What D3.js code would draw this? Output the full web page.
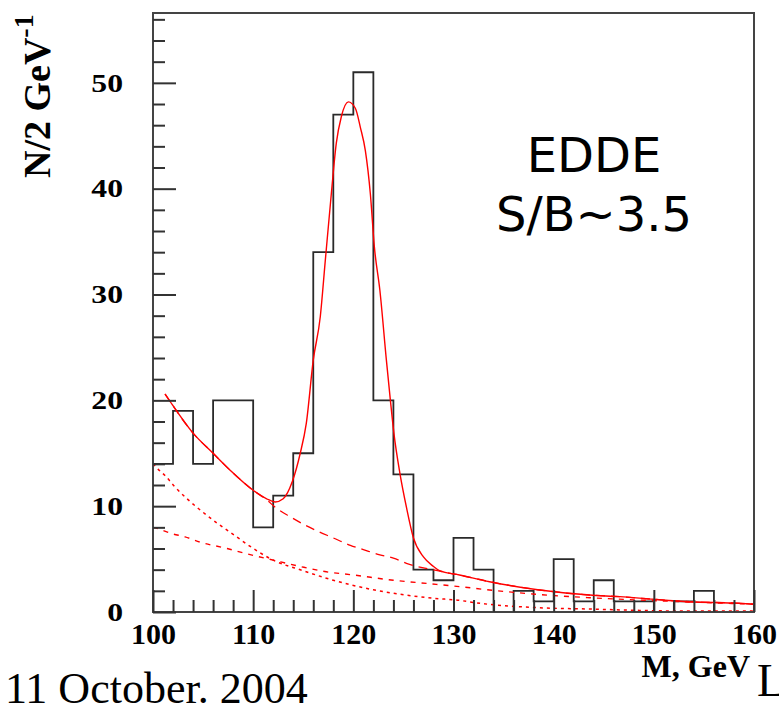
<!DOCTYPE html>
<html>
<head>
<meta charset="utf-8">
<script src="https://cdn.jsdelivr.net/npm/d3@7"></script>
<style>
  body { margin: 0; background: #fff; }
  svg { display: block; }
</style>
</head>
<body>
<svg id="chart" width="779" height="710"></svg>
<script>
// Invariant-mass histogram, 2 GeV bins (lower bin edges)
const binStarts = [100, 102, 104, 106, 108, 110, 112, 114, 116, 118,
                   120, 122, 124, 126, 128, 130, 132, 134, 136, 138,
                   140, 142, 144, 146, 148, 150, 152, 154, 156, 158];
const binWidth = 2;
const counts = [14, 19, 14, 20, 20, 8, 11, 15, 34, 47,
                51, 20, 13, 4, 3, 7, 4, 0, 2, 1,
                5, 1, 3, 1, 1, 0, 1, 2, 0, 0];

// Fit: signal peak on top of background
const fitMass = [101.2, 101.7, 104.0, 106.0, 107.7, 110.0, 111.35, 112.2, 113.0, 113.9,
                 114.7, 115.3, 116.0, 116.7, 117.2, 117.8, 118.3, 118.8, 119.5, 120.2,
                 120.7, 121.2, 121.7, 122.1, 122.65, 123.3, 123.7, 124.05, 124.65, 125.3,
                 126.0, 127.0, 128.0, 128.6, 130.6, 133.6, 138.6, 143.6, 146.6, 150.0,
                 153.6, 158.6, 160.0];
const fitValue = [20.6, 19.9, 16.9, 15.0, 13.4, 11.5, 10.7, 10.4, 10.7, 12.3,
                  15.0, 17.8, 23.8, 27.9, 33.2, 39.5, 44.3, 46.8, 48.2, 47.6,
                  45.8, 43.6, 39.5, 34.5, 30.4, 23.8, 20.0, 16.9, 13.1, 9.9,
                  7.0, 5.2, 4.3, 3.9, 3.5, 2.86, 2.08, 1.6, 1.45, 1.2,
                  0.97, 0.82, 0.73];

// Total background
const bkgMass = [101.2, 101.7, 104.0, 106.0, 107.7, 110.0, 111.35, 112.2, 113.7, 115.0,
                 116.3, 118.0, 119.7, 121.0, 122.65, 124.0, 125.3, 128.0, 130.6, 133.6,
                 138.6, 143.6, 146.6, 150.0, 153.6, 158.6, 160.0];
const bkgValue = [20.6, 19.9, 16.9, 15.0, 13.4, 11.5, 10.6, 9.9, 9.0, 8.3,
                  7.7, 7.0, 6.3, 5.9, 5.4, 5.1, 4.6, 3.97, 3.5, 2.86,
                  2.08, 1.6, 1.45, 1.2, 0.97, 0.82, 0.73];

// Background component with slow fall-off
const slowMass = [100.0, 100.4, 101.9, 103.2, 104.7, 107.4, 109.35, 112.0, 114.7, 117.3,
                  120.0, 124.0, 127.3, 130.6, 133.6, 138.6, 143.6, 148.6, 153.6, 158.6, 160.0];
const slowValue = [8.0, 7.9, 7.4, 7.1, 6.6, 6.0, 5.5, 4.9, 4.3, 3.8,
                   3.5, 3.0, 2.7, 2.4, 2.08, 1.65, 1.35, 1.13, 0.95, 0.78, 0.74];

// Background component with fast fall-off
const fastMass = [100.0, 100.5, 101.2, 102.2, 103.4, 104.5, 106.4, 108.35, 109.7, 112.0,
                  115.0, 118.0, 122.0, 128.0, 130.6, 132.0, 138.6, 143.6, 148.6, 152.0, 158.6, 160.0];
const fastValue = [14.0, 13.5, 12.9, 11.8, 10.7, 9.8, 8.4, 7.1, 6.2, 4.9,
                   3.9, 3.0, 2.1, 1.3, 1.1, 0.9, 0.4, 0.28, 0.15, 0.1, 0.1, 0.1];

// Axis ticks
const xMajor = [100, 110, 120, 130, 140, 150, 160];
const xMinor = [102, 104, 106, 108, 112, 114, 116, 118, 122, 124, 126, 128,
                132, 134, 136, 138, 142, 144, 146, 148, 152, 154, 156, 158];
const yMajor = [0, 10, 20, 30, 40, 50];
const yMinor = [2, 4, 6, 8, 12, 14, 16, 18, 22, 24, 26, 28, 32, 34, 36, 38,
                42, 44, 46, 48, 52, 54, 56];

const svg = d3.select("#chart");
const x = d3.scaleLinear().domain([100, 160]).range([153, 754]);
const y = d3.scaleLinear().domain([0, 56.6]).range([612, 13]);

const frameColor = "#444";
const red = "#ff0000";

// Histogram outline as a step line
const steps = [{m: binStarts[0], v: 0}];
binStarts.forEach((b, i) => steps.push({m: b, v: counts[i]}));
steps.push({m: binStarts[binStarts.length - 1] + binWidth, v: counts[counts.length - 1]});
steps.push({m: binStarts[binStarts.length - 1] + binWidth, v: 0});

svg.append("path")
  .datum(steps)
  .attr("fill", "none")
  .attr("stroke", "#2a2a2a")
  .attr("stroke-width", 1.8)
  .attr("d", d3.line().x(d => x(d.m)).y(d => y(d.v)).curve(d3.curveStepAfter));

// Fitted curves
const curve = d3.line().x(d => x(d[0])).y(d => y(d[1])).curve(d3.curveMonotoneX);
function drawCurve(ms, vs, dash, width) {
  svg.append("path")
    .datum(ms.map((m, i) => [m, vs[i]]))
    .attr("fill", "none")
    .attr("stroke", red)
    .attr("stroke-width", width)
    .attr("stroke-dasharray", dash)
    .attr("d", curve);
}
drawCurve(fastMass, fastValue, "3,4", 1.5);
drawCurve(slowMass, slowValue, "5,6", 1.4);
drawCurve(bkgMass, bkgValue, "9,6", 1.3);
drawCurve(fitMass, fitValue, null, 1.4);

// Frame
svg.append("rect")
  .attr("x", x(100)).attr("y", y(56.6))
  .attr("width", x(160) - x(100)).attr("height", y(0) - y(56.6))
  .attr("fill", "none").attr("stroke", frameColor).attr("stroke-width", 2);

// Y axis: ticks point into the frame
const yAxisG = svg.append("g").attr("transform", `translate(${x(100)},0)`);
yAxisG.call(d3.axisLeft(y).tickValues(yMinor).tickSize(-12).tickFormat(""));
yAxisG.call(g => g.append("g").call(d3.axisLeft(y).tickValues(yMajor).tickSize(-23).tickPadding(30)));
yAxisG.selectAll(".domain").remove();
yAxisG.selectAll("line").attr("stroke", "#333").attr("stroke-width", 2);
yAxisG.selectAll("text")
  .attr("font-family", "'Liberation Serif', 'Times New Roman', serif")
  .attr("font-weight", "bold")
  .attr("font-size", 26)
  .attr("fill", "#000")
  .attr("x", -30 / 1.22)
  .attr("transform", "scale(1.22,1)");

// X axis
const xAxisG = svg.append("g").attr("transform", `translate(0,${y(0)})`);
xAxisG.call(d3.axisBottom(x).tickValues(xMinor).tickSize(-12).tickFormat(""));
xAxisG.call(g => g.append("g").call(d3.axisBottom(x).tickValues(xMajor).tickSize(-22).tickPadding(11)));
xAxisG.selectAll(".domain").remove();
xAxisG.selectAll("line").attr("stroke", "#333").attr("stroke-width", 2);
xAxisG.selectAll("text")
  .attr("font-family", "'Liberation Serif', 'Times New Roman', serif")
  .attr("font-weight", "bold")
  .attr("font-size", 30)
  .attr("fill", "#000");

// Axis titles
const yTitle = svg.append("text")
  .attr("transform", "translate(50,178) rotate(-90)")
  .attr("font-family", "'Liberation Serif', 'Times New Roman', serif")
  .attr("font-weight", "bold")
  .attr("font-size", 38)
  .attr("fill", "#000");
yTitle.append("tspan").text("N/2 GeV");
yTitle.append("tspan").attr("dy", -17).attr("font-size", 28).text("-1");

svg.append("text")
  .attr("x", 750).attr("y", 677)
  .attr("text-anchor", "end")
  .attr("font-family", "'Liberation Serif', 'Times New Roman', serif")
  .attr("font-weight", "bold")
  .attr("font-size", 32)
  .attr("fill", "#000")
  .text("M, GeV");

// Annotation
const note = svg.append("g")
  .attr("font-family", "'Comic Sans MS', 'DejaVu Sans', sans-serif")
  .attr("font-size", 48)
  .attr("text-anchor", "middle")
  .attr("fill", "#000");
note.append("text").attr("x", 594).attr("y", 172).text("EDDE");
note.append("text").attr("x", 594).attr("y", 231).text("S/B~3.5");

// Slide footer
svg.append("text")
  .attr("x", 5).attr("y", 703)
  .attr("font-family", "'Liberation Serif', 'Times New Roman', serif")
  .attr("font-size", 44)
  .attr("fill", "#000")
  .text("11 October. 2004");
svg.append("text")
  .attr("x", 757).attr("y", 696)
  .attr("font-family", "'Liberation Serif', 'Times New Roman', serif")
  .attr("font-size", 46)
  .attr("fill", "#000")
  .text("L");
</script>
</body>
</html>
